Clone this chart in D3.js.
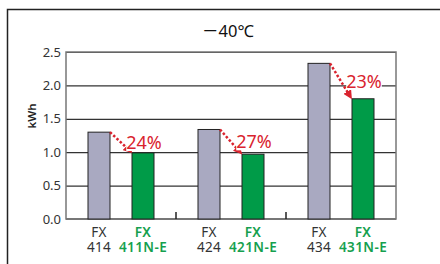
<!DOCTYPE html>
<html>
<head>
<meta charset="utf-8">
<script src="https://cdn.jsdelivr.net/npm/d3@7"></script>
<style>
  body { margin: 0; background: #fff; }
  svg { display: block; font-family: "Noto Sans", "Noto Sans CJK JP", sans-serif; }
</style>
</head>
<body>
<svg width="440" height="264"></svg>
<script>
// data
const groups = [0, 1, 2];
const oldModels = ["414", "424", "434"];
const newModels = ["411N-E", "421N-E", "431N-E"];
const oldValues = [1.30, 1.34, 2.33];
const newValues = [0.99, 0.97, 1.80];
const reductions = ["24%", "27%", "23%"];
const yTicks = [0, 0.5, 1.0, 1.5, 2.0, 2.5];

const grayFill = "#a9a9c1";
const greenFill = "#009b48";
const greenText = "#15a04e";
const red = "#d9232e";

const svg = d3.select("svg");
const plot = { left: 66, right: 396, top: 52, bottom: 219 };

// outer frame (left + top only)
svg.append("path")
    .attr("d", "M7.5,264 V9.5 H440")
    .attr("fill", "none")
    .attr("stroke", "#222")
    .attr("stroke-width", 1.5);

svg.append("text")
    .attr("x", 228).attr("y", 37)
    .attr("text-anchor", "middle")
    .style("font-size", "16.5px")
    .style("fill", "#111")
    .text("－40℃");

const x = d3.scaleBand().domain(groups).range([plot.left, plot.right]);
const xi = d3.scaleBand().domain(["old", "new"]).range([0, x.bandwidth()])
    .paddingInner(0.5).paddingOuter(0.5);
const y = d3.scaleLinear().domain([0, 2.5]).range([plot.bottom, plot.top]);

// grid + y labels
const yAxis = svg.append("g")
    .attr("transform", `translate(${plot.left},0)`)
    .call(d3.axisLeft(y).tickValues(yTicks).tickSize(-(plot.right - plot.left))
        .tickPadding(5).tickFormat(d3.format(".1f")));
yAxis.select(".domain").remove();
yAxis.selectAll("line").attr("stroke", "#333").attr("stroke-width", 1.2);
yAxis.selectAll("text").style("font-size", "13px").style("fill", "#333")
    .style("font-family", "'Noto Sans', sans-serif");

svg.append("text")
    .attr("transform", "translate(36,116) rotate(-90)")
    .attr("text-anchor", "middle")
    .style("font-size", "11.5px")
    .style("font-weight", "600")
    .style("fill", "#222")
    .text("kWh");

// plot border
svg.append("rect")
    .attr("x", plot.left).attr("y", plot.top)
    .attr("width", plot.right - plot.left).attr("height", plot.bottom - plot.top)
    .attr("fill", "none").attr("stroke", "#777").attr("stroke-width", 1.5);

svg.append("line")
    .attr("x1", plot.left).attr("x2", plot.right)
    .attr("y1", plot.bottom).attr("y2", plot.bottom)
    .attr("stroke", "#777").attr("stroke-width", 2);

// separators between groups
svg.append("g").selectAll("line")
    .data(groups.slice(1))
    .join("line")
    .attr("x1", d => x(d)).attr("x2", d => x(d))
    .attr("y1", plot.bottom - 7).attr("y2", plot.bottom)
    .attr("stroke", "#222").attr("stroke-width", 1.5);

// bars
const g = svg.append("g").selectAll("g")
    .data(groups)
    .join("g")
    .attr("transform", d => `translate(${x(d)},0)`);

g.append("rect")
    .attr("x", xi("old")).attr("width", xi.bandwidth())
    .attr("y", d => y(oldValues[d])).attr("height", d => y(0) - y(oldValues[d]))
    .attr("fill", grayFill).attr("stroke", "#222").attr("stroke-width", 1);

g.append("rect")
    .attr("x", xi("new")).attr("width", xi.bandwidth())
    .attr("y", d => y(newValues[d])).attr("height", d => y(0) - y(newValues[d]))
    .attr("fill", greenFill).attr("stroke", "#222").attr("stroke-width", 1);

// arrows
svg.append("defs").append("marker")
    .attr("id", "head")
    .attr("viewBox", "0 0 10 10")
    .attr("refX", 8).attr("refY", 5)
    .attr("markerWidth", 3.6).attr("markerHeight", 3.6)
    .attr("markerUnits", "strokeWidth")
    .attr("orient", "auto")
    .append("path").attr("d", "M0,0 L10,5 L0,10 Z").attr("fill", red);

g.append("line")
    .attr("x1", xi("old") + xi.bandwidth())
    .attr("y1", d => y(oldValues[d]))
    .attr("x2", xi("new") - 1)
    .attr("y2", d => y(newValues[d]) - 1)
    .attr("stroke", red).attr("stroke-width", 2.5)
    .attr("stroke-dasharray", "2.5,2")
    .attr("marker-end", "url(#head)");

// reduction labels with white background
const labels = g.append("text")
    .attr("x", xi("new") + xi.bandwidth() / 2 + 1)
    .attr("y", d => (y(oldValues[d]) + y(newValues[d])) / 2)
    .attr("dy", "0.36em")
    .attr("text-anchor", "middle")
    .style("font-size", "18px")
    .style("fill", red)
    .text(d => reductions[d]);

labels.each(function() {
    const b = this.getBBox();
    d3.select(this.parentNode).insert("rect", () => this)
        .attr("x", b.x).attr("y", b.y + 3)
        .attr("width", b.width).attr("height", b.height - 6)
        .attr("fill", "#fff");
});

// x labels
function modelLabel(key, names, color, weight, spacing) {
    const cx = xi(key) + xi.bandwidth() / 2;
    g.append("text")
        .attr("x", cx).attr("y", 237)
        .attr("text-anchor", "middle")
        .style("font-size", "13.5px").style("font-weight", weight)
        .style("letter-spacing", spacing)
        .style("fill", color)
        .text("FX");
    g.append("text")
        .attr("x", cx).attr("y", 252)
        .attr("text-anchor", "middle")
        .style("font-size", "13.5px").style("font-weight", weight)
        .style("letter-spacing", spacing)
        .style("fill", color)
        .text(d => names[d]);
}
modelLabel("old", oldModels, "#333", "400", "0.3px");
modelLabel("new", newModels, greenText, "600", "0.4px");
</script>
</body>
</html>
